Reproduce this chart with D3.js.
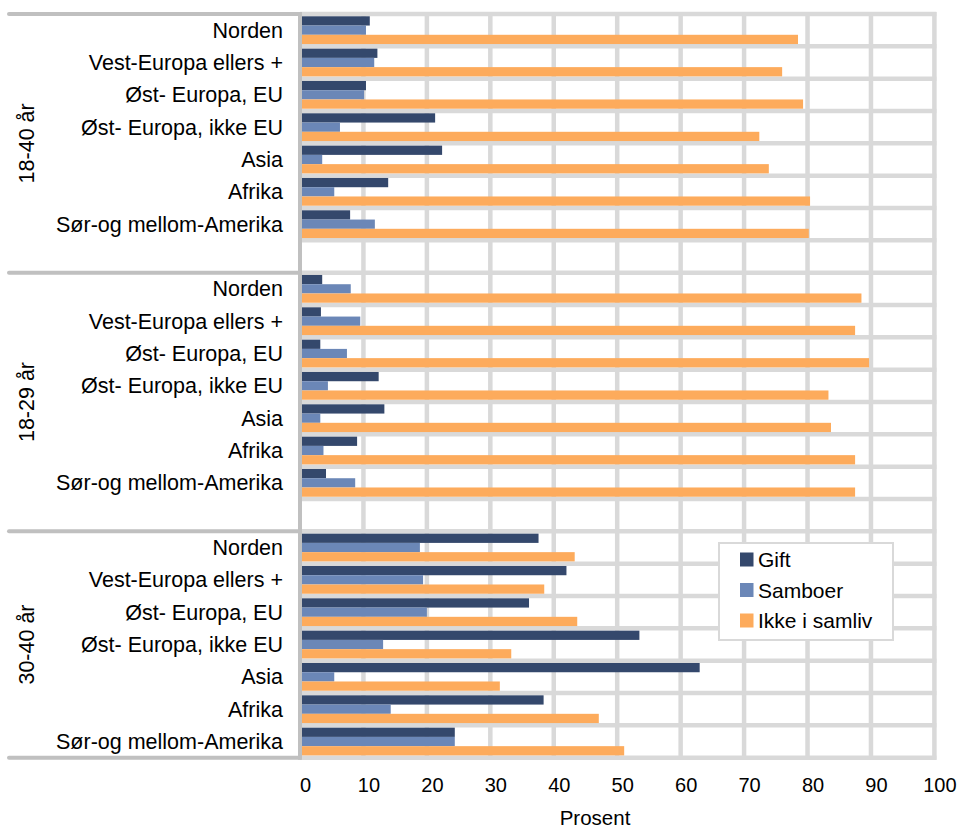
<!DOCTYPE html>
<html>
<head>
<meta charset="utf-8">
<script src="https://cdn.jsdelivr.net/npm/d3@7"></script>
<style>
  html, body { margin: 0; padding: 0; background: #fff; }
  svg { display: block; font-family: "Liberation Sans", Arial, sans-serif; }
</style>
</head>
<body>
<svg id="chart" width="960" height="830"></svg>
<script>
// ---- Data ----
const categories = ["Norden", "Vest-Europa ellers +", "Øst- Europa, EU", "Øst- Europa, ikke EU", "Asia", "Afrika", "Sør-og mellom-Amerika"];
const groups = ["18-40 år", "18-29 år", "30-40 år"];
const seriesNames = ["Gift", "Samboer", "Ikke i samliv"];
const seriesColors = ["#34486c", "#6b87b7", "#fdab5c"];
const xTicks = [0, 10, 20, 30, 40, 50, 60, 70, 80, 90, 100];

// values per group (rows follow categories order)
const gift = [
  [11.0, 12.2, 10.4, 21.3, 22.4, 13.9, 7.9],
  [3.5, 3.3, 3.2, 12.4, 13.3, 9.0, 4.1],
  [37.6, 42.0, 36.1, 53.5, 63.0, 38.4, 24.4]
];
const samboer = [
  [10.4, 11.7, 10.1, 6.3, 3.5, 5.4, 11.8],
  [8.0, 9.5, 7.4, 4.4, 3.2, 3.7, 8.7],
  [18.9, 19.4, 20.0, 13.1, 5.4, 14.3, 24.4]
];
const ikkeSamliv = [
  [78.5, 76.0, 79.3, 72.4, 73.9, 80.4, 80.2],
  [88.5, 87.5, 89.7, 83.3, 83.7, 87.5, 87.5],
  [43.3, 38.5, 43.7, 33.3, 31.5, 47.1, 51.1]
];
const seriesValues = [gift, samboer, ikkeSamliv];

// ---- Layout ----
const svg = d3.select("#chart");
const plotLeft = 300, plotRight = 934.4, plotTop = 14, plotBottom = 757.7;
const rowsPerGroup = categories.length + 1; // blank row between groups
const nRows = groups.length * rowsPerGroup - 1;

const x = d3.scaleLinear().domain([0, 100]).range([plotLeft, plotRight]);
const rowScale = d3.scaleBand().domain(d3.range(nRows)).range([plotTop, plotBottom]).paddingInner(0).paddingOuter(0);
const rowH = rowScale.bandwidth();
const barScale = d3.scaleBand().domain(d3.range(seriesNames.length)).range([2.3, rowH - 2.3]).padding(0);

const gridColor = "#d9d9d9";

svg.append("rect").attr("x", plotLeft).attr("y", plotTop).attr("width", plotRight - plotLeft).attr("height", plotBottom - plotTop).attr("fill", "#fff");

// vertical gridlines
const grid = svg.append("g");
grid.selectAll("line.v").data(xTicks.filter(d => d > 0)).enter().append("line")
  .attr("x1", d => x(d)).attr("x2", d => x(d))
  .attr("y1", plotTop - 2).attr("y2", plotBottom + 2)
  .attr("stroke", gridColor).attr("stroke-width", 4.5);

// horizontal gridlines at every row boundary
const boundaries = d3.range(nRows + 1).map(i => i < nRows ? rowScale(i) : plotBottom);
grid.selectAll("line.h").data(boundaries).enter().append("line")
  .attr("x1", plotLeft).attr("x2", plotRight + 2)
  .attr("y1", d => d).attr("y2", d => d)
  .attr("stroke", gridColor).attr("stroke-width", 4.5);

// bars
const barData = [];
groups.forEach((g, gi) => {
  categories.forEach((c, ci) => {
    seriesNames.forEach((s, si) => {
      barData.push({ row: gi * rowsPerGroup + ci, si, value: seriesValues[si][gi][ci] });
    });
  });
});
svg.append("g").selectAll("rect").data(barData).enter().append("rect")
  .attr("x", x(0))
  .attr("y", d => rowScale(d.row) + barScale(d.si))
  .attr("width", d => x(d.value) - x(0))
  .attr("height", barScale.bandwidth())
  .attr("fill", d => seriesColors[d.si]);

// left axis line and group separators
const axisColor = "#c0c0c0";
svg.append("line").attr("x1", plotLeft).attr("x2", plotLeft).attr("y1", plotTop - 2).attr("y2", plotBottom + 2)
  .attr("stroke", axisColor).attr("stroke-width", 4);
const sepY = [plotTop, rowScale(rowsPerGroup), rowScale(2 * rowsPerGroup), plotBottom];
svg.append("g").selectAll("line").data(sepY).enter().append("line")
  .attr("x1", 9).attr("x2", plotLeft)
  .attr("y1", d => d).attr("y2", d => d)
  .attr("stroke", axisColor).attr("stroke-width", 4).attr("stroke-linecap", "round");

// category labels
const labels = svg.append("g").attr("font-size", 21.5).attr("fill", "#000");
groups.forEach((g, gi) => {
  categories.forEach((c, ci) => {
    const r = gi * rowsPerGroup + ci;
    labels.append("text")
      .attr("x", 283)
      .attr("y", rowScale(r) + rowH / 2)
      .attr("dy", "0.35em")
      .attr("text-anchor", "end")
      .text(c);
  });
  const y0 = sepY[gi], y1 = sepY[gi + 1];
  labels.append("text")
    .attr("transform", `translate(34,${(y0 + y1) / 2}) rotate(-90)`)
    .attr("text-anchor", "middle")
    .text(g);
});

// x axis
const xAxis = d3.axisBottom(x).tickValues(xTicks).tickSize(0).tickPadding(0).tickFormat(d3.format("d"));
const ax = svg.append("g").attr("transform", `translate(5,${778})`).call(xAxis);
ax.select(".domain").remove();
ax.selectAll("text").attr("font-size", 20).attr("font-family", "Liberation Sans, Arial, sans-serif").attr("fill", "#000").attr("dy", "0.71em");

svg.append("text").attr("x", 595).attr("y", 825).attr("text-anchor", "middle").attr("font-size", 20.5).text("Prosent");

// legend
const lg = svg.append("g");
lg.append("rect").attr("x", 719).attr("y", 543).attr("width", 174).attr("height", 97)
  .attr("fill", "#fff").attr("stroke", "#d9d9d9").attr("stroke-width", 2);
seriesNames.forEach((s, i) => {
  const cy = 559.5 + i * 30.5;
  lg.append("rect").attr("x", 740).attr("y", cy - 7).attr("width", 13.5).attr("height", 14).attr("fill", seriesColors[i]);
  lg.append("text").attr("x", 758).attr("y", cy).attr("dy", "0.36em").attr("font-size", 21).text(s);
});
</script>
</body>
</html>
